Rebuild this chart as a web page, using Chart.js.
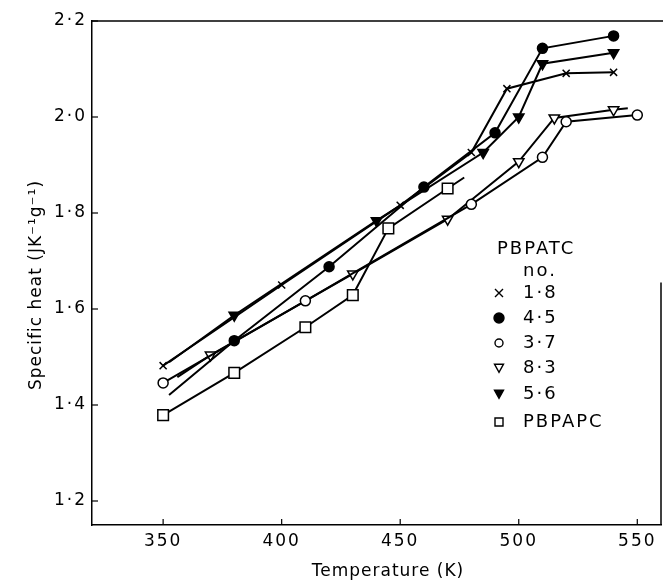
<!DOCTYPE html>
<html><head><meta charset="utf-8">
<script src="https://cdn.jsdelivr.net/npm/chart.js@4/dist/chart.umd.min.js"></script>
<style>html,body{margin:0;padding:0;background:#fff}canvas{display:block}</style>
</head><body>
<canvas id="c" width="663" height="582"></canvas>
<script>
// ---- data ----
const xTicks=[350,400,450,500,550];
const yTicks=[1.2,1.4,1.6,1.8,2.0,2.2];
const legendTitle='PBPATC';
const legendSub='no.';
const seriesNames=['1·8','4·5','3·7','8·3','5·6','PBPAPC'];

const t18=[350,400,450,480,495,520,540];
const v18=[1.482,1.650,1.816,1.926,2.059,2.091,2.093];
const t45=[352.5,380,420,460,490,510,540];
const v45=[1.421,1.534,1.688,1.854,1.967,2.143,2.169];
const t37=[350,410,480,510,520,550];
const v37=[1.446,1.617,1.818,1.916,1.990,2.004];
const t83=[356,370,430,470,500,515,540,546];
const v83=[1.458,1.504,1.673,1.787,1.907,1.998,2.015,2.018];
const t56=[352.5,380,440,485,500,510,540];
const v56=[1.489,1.587,1.784,1.926,2.000,2.111,2.134];
const tPC=[350,380,410,430,445,470,477];
const vPC=[1.379,1.467,1.562,1.629,1.768,1.851,1.874];

// points drawn without a marker (line ends only)
const bare45=[0], bare83=[0,7], bare56=[0], barePC=[6];

function pts(t,v){return t.map((x,i)=>({x:x,y:v[i]}));}
function radii(n,r,bare){return Array.from({length:n},(_,i)=>bare.includes(i)?0:r);}

const styles=[
 {pointStyle:'crossRot',r:5,fill:'#000',rot:0},
 {pointStyle:'circle',r:5,fill:'#000',rot:0},
 {pointStyle:'circle',r:5,fill:'#fff',rot:0},
 {pointStyle:'triangle',r:6,fill:'#fff',rot:180},
 {pointStyle:'triangle',r:6,fill:'#000',rot:180},
 {pointStyle:'rect',r:7.5,fill:'#fff',rot:0}
];
const raw=[[t18,v18,[]],[t45,v45,bare45],[t37,v37,[]],[t83,v83,bare83],[t56,v56,bare56],[tPC,vPC,barePC]];

const datasets=raw.map((d,i)=>({
 label:seriesNames[i],
 data:pts(d[0],d[1]),
 borderColor:'#000',borderWidth:2,
 pointStyle:styles[i].pointStyle,
 pointRotation:styles[i].rot,
 pointRadius:radii(d[0].length,styles[i].r,d[2]),
 pointHoverRadius:radii(d[0].length,styles[i].r,d[2]),
 pointBackgroundColor:styles[i].fill,
 pointBorderColor:'#000',pointBorderWidth:1.5,
 fill:false,tension:0,showLine:true,clip:false
}));

const FONT='"DejaVu Sans"';

function drawMarker(ctx,kind,x,y,s,fill){
 ctx.save();ctx.strokeStyle='#000';ctx.fillStyle=fill;ctx.lineWidth=1.4;ctx.beginPath();
 if(kind==='crossRot'){ctx.moveTo(x-s,y-s);ctx.lineTo(x+s,y+s);ctx.moveTo(x+s,y-s);ctx.lineTo(x-s,y+s);ctx.stroke();}
 else if(kind==='circle'){ctx.arc(x,y,s,0,Math.PI*2);ctx.fill();ctx.stroke();}
 else if(kind==='triangle'){ctx.moveTo(x-s,y-s*0.85);ctx.lineTo(x+s,y-s*0.85);ctx.lineTo(x,y+s*0.95);ctx.closePath();ctx.fill();ctx.stroke();}
 else if(kind==='rect'){ctx.rect(x-s,y-s,2*s,2*s);ctx.fill();ctx.stroke();}
 ctx.restore();
}

const spacing={id:'spacing',beforeDraw(chart){chart.ctx.letterSpacing='2px';}};

const decor={id:'decor',afterDraw(chart){
 const {ctx,chartArea:a,scales:{x,y}}=chart;
 ctx.save();
 ctx.strokeStyle='#000';ctx.lineWidth=1.5;
 ctx.beginPath();ctx.moveTo(a.left,a.top);ctx.lineTo(chart.width,a.top);ctx.stroke();
 ctx.beginPath();ctx.moveTo(a.right,y.getPixelForValue(1.655));ctx.lineTo(a.right,a.bottom);ctx.stroke();
 ctx.lineWidth=1.2;
 xTicks.forEach(v=>{const px=x.getPixelForValue(v);ctx.beginPath();ctx.moveTo(px,a.bottom);ctx.lineTo(px,a.bottom-6);ctx.stroke();});
 yTicks.forEach(v=>{const py=y.getPixelForValue(v);ctx.beginPath();ctx.moveTo(a.left,py);ctx.lineTo(a.left+6,py);ctx.stroke();});
 ctx.fillStyle='#000';ctx.font='17px '+FONT;ctx.textAlign='center';ctx.textBaseline='middle';
 ctx.letterSpacing='1px';
 ctx.fillText('Temperature (K)',388,572);
 ctx.save();ctx.translate(37,285);ctx.rotate(-Math.PI/2);ctx.fillText('Specific heat (JK⁻¹g⁻¹)',0,0);ctx.restore();
 // legend
 ctx.font='18px '+FONT;ctx.letterSpacing='2px';
 ctx.textAlign='left';
 ctx.fillText(legendTitle,497,249);
 ctx.textAlign='center';
 ctx.fillText(legendSub,540,271);
 ctx.textAlign='left';
 const rows=[293,318,343,368,394,422];
 const lsz=[4,5,4,4.5,4.5,4];
 seriesNames.forEach((n,i)=>{
   drawMarker(ctx,styles[i].pointStyle,499,rows[i],lsz[i],styles[i].fill);
   ctx.fillText(n,523,rows[i]);
 });
 ctx.restore();
}};

new Chart(document.getElementById('c'),{
 type:'line',
 data:{datasets},
 plugins:[spacing,decor],
 options:{
  responsive:false,animation:false,
  layout:{autoPadding:false,padding:{top:21,right:2,left:0,bottom:0}},
  plugins:{legend:{display:false},tooltip:{enabled:false}},
  scales:{
   x:{type:'linear',min:320,max:560,
      grid:{display:false,drawTicks:false},
      border:{display:true,color:'#000',width:1.5},
      afterBuildTicks:s=>{s.ticks=xTicks.map(v=>({value:v}));},
      afterFit:s=>{s.height=57;s.paddingRight=0;s.paddingLeft=0;},
      ticks:{color:'#000',font:{family:FONT,size:17},padding:6,maxRotation:0,callback:v=>String(v)}},
   y:{type:'linear',min:1.15,max:2.2,
      grid:{display:false,drawTicks:false},
      border:{display:true,color:'#000',width:1.5},
      afterBuildTicks:s=>{s.ticks=yTicks.map(v=>({value:v}));},
      afterFit:s=>{s.width=92;},
      ticks:{color:'#000',font:{family:FONT,size:17},padding:5,callback:v=>Number(v).toFixed(1).replace('.','·')}}
  }
 }
});
</script>
</body></html>
